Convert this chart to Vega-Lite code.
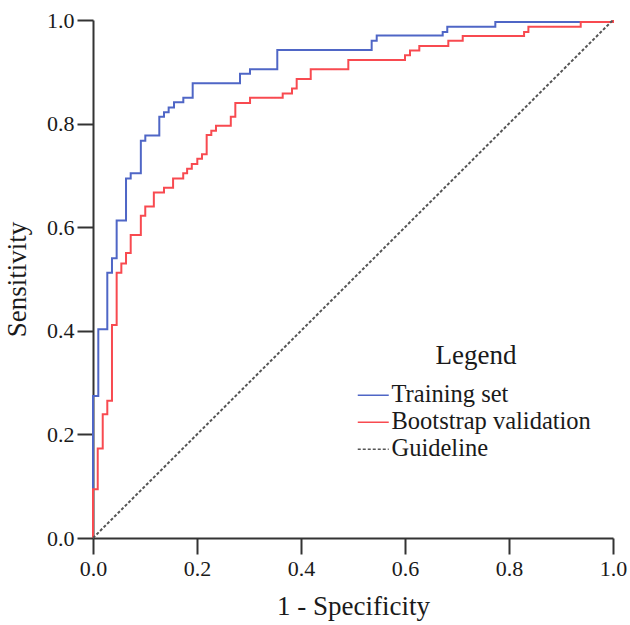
{
  "$schema": "https://vega.github.io/schema/vega-lite/v6.json",
  "autosize": "none",
  "width": 520,
  "height": 518,
  "padding": {"left": 93, "top": 20, "right": 17, "bottom": 87},
  "background": "white",
  "config": {
    "view": {"stroke": null},
    "font": "Liberation Serif",
    "axis": {
      "grid": false,
      "domainColor": "#333333",
      "domainWidth": 2,
      "tickColor": "#333333",
      "tickWidth": 2,
      "tickSize": 16,
      "labelFont": "Liberation Serif",
      "labelFontSize": 22,
      "labelColor": "#1a1a1a",
      "titleFont": "Liberation Serif",
      "titleFontSize": 27,
      "titleFontWeight": "normal",
      "titleColor": "#1a1a1a"
    },
    "legend": {
      "titleFont": "Liberation Serif",
      "titleFontSize": 27,
      "titleFontWeight": "normal",
      "titleColor": "#1a1a1a",
      "labelFont": "Liberation Serif",
      "labelFontSize": 24.5,
      "labelLimit": 400,
      "labelColor": "#1a1a1a"
    }
  },
  "datasets": {
    "roc": [
      {"series": "Training set", "i": 0, "x": 0, "y": 0},
      {"series": "Training set", "i": 1, "x": 0, "y": 0.274},
      {"series": "Training set", "i": 2, "x": 0.0102, "y": 0.403},
      {"series": "Training set", "i": 3, "x": 0.0275, "y": 0.512},
      {"series": "Training set", "i": 4, "x": 0.0365, "y": 0.540},
      {"series": "Training set", "i": 5, "x": 0.0455, "y": 0.613},
      {"series": "Training set", "i": 6, "x": 0.0635, "y": 0.694},
      {"series": "Training set", "i": 7, "x": 0.0725, "y": 0.704},
      {"series": "Training set", "i": 8, "x": 0.092, "y": 0.767},
      {"series": "Training set", "i": 9, "x": 0.1006, "y": 0.777},
      {"series": "Training set", "i": 10, "x": 0.1275, "y": 0.813},
      {"series": "Training set", "i": 11, "x": 0.1365, "y": 0.822},
      {"series": "Training set", "i": 12, "x": 0.1455, "y": 0.831},
      {"series": "Training set", "i": 13, "x": 0.1558, "y": 0.841},
      {"series": "Training set", "i": 14, "x": 0.1737, "y": 0.850},
      {"series": "Training set", "i": 15, "x": 0.1917, "y": 0.878},
      {"series": "Training set", "i": 16, "x": 0.2827, "y": 0.896},
      {"series": "Training set", "i": 17, "x": 0.3019, "y": 0.905},
      {"series": "Training set", "i": 18, "x": 0.3544, "y": 0.942},
      {"series": "Training set", "i": 19, "x": 0.5359, "y": 0.960},
      {"series": "Training set", "i": 20, "x": 0.5456, "y": 0.970},
      {"series": "Training set", "i": 21, "x": 0.6725, "y": 0.977},
      {"series": "Training set", "i": 22, "x": 0.6813, "y": 0.987},
      {"series": "Training set", "i": 23, "x": 0.7737, "y": 0.996},
      {"series": "Training set", "i": 24, "x": 1, "y": 1},
      {"series": "Bootstrap validation", "i": 0, "x": 0, "y": 0},
      {"series": "Bootstrap validation", "i": 1, "x": 0, "y": 0.094},
      {"series": "Bootstrap validation", "i": 2, "x": 0.0091, "y": 0.173},
      {"series": "Bootstrap validation", "i": 3, "x": 0.0187, "y": 0.239},
      {"series": "Bootstrap validation", "i": 4, "x": 0.0275, "y": 0.265},
      {"series": "Bootstrap validation", "i": 5, "x": 0.0365, "y": 0.411},
      {"series": "Bootstrap validation", "i": 6, "x": 0.0455, "y": 0.512},
      {"series": "Bootstrap validation", "i": 7, "x": 0.0545, "y": 0.530},
      {"series": "Bootstrap validation", "i": 8, "x": 0.0635, "y": 0.550},
      {"series": "Bootstrap validation", "i": 9, "x": 0.0725, "y": 0.585},
      {"series": "Bootstrap validation", "i": 10, "x": 0.092, "y": 0.622},
      {"series": "Bootstrap validation", "i": 11, "x": 0.1005, "y": 0.640},
      {"series": "Bootstrap validation", "i": 12, "x": 0.117, "y": 0.667},
      {"series": "Bootstrap validation", "i": 13, "x": 0.1365, "y": 0.676},
      {"series": "Bootstrap validation", "i": 14, "x": 0.154, "y": 0.694},
      {"series": "Bootstrap validation", "i": 15, "x": 0.1735, "y": 0.704},
      {"series": "Bootstrap validation", "i": 16, "x": 0.181, "y": 0.713},
      {"series": "Bootstrap validation", "i": 17, "x": 0.19, "y": 0.722},
      {"series": "Bootstrap validation", "i": 18, "x": 0.2006, "y": 0.732},
      {"series": "Bootstrap validation", "i": 19, "x": 0.2096, "y": 0.741},
      {"series": "Bootstrap validation", "i": 20, "x": 0.2186, "y": 0.778},
      {"series": "Bootstrap validation", "i": 21, "x": 0.2275, "y": 0.786},
      {"series": "Bootstrap validation", "i": 22, "x": 0.2365, "y": 0.796},
      {"series": "Bootstrap validation", "i": 23, "x": 0.265, "y": 0.813},
      {"series": "Bootstrap validation", "i": 24, "x": 0.2737, "y": 0.840},
      {"series": "Bootstrap validation", "i": 25, "x": 0.302, "y": 0.850},
      {"series": "Bootstrap validation", "i": 26, "x": 0.3648, "y": 0.858},
      {"series": "Bootstrap validation", "i": 27, "x": 0.3827, "y": 0.868},
      {"series": "Bootstrap validation", "i": 28, "x": 0.3917, "y": 0.886},
      {"series": "Bootstrap validation", "i": 29, "x": 0.4187, "y": 0.905},
      {"series": "Bootstrap validation", "i": 30, "x": 0.491, "y": 0.923},
      {"series": "Bootstrap validation", "i": 31, "x": 0.6, "y": 0.932},
      {"series": "Bootstrap validation", "i": 32, "x": 0.6096, "y": 0.941},
      {"series": "Bootstrap validation", "i": 33, "x": 0.6275, "y": 0.950},
      {"series": "Bootstrap validation", "i": 34, "x": 0.6833, "y": 0.960},
      {"series": "Bootstrap validation", "i": 35, "x": 0.711, "y": 0.969},
      {"series": "Bootstrap validation", "i": 36, "x": 0.829, "y": 0.977},
      {"series": "Bootstrap validation", "i": 37, "x": 0.8373, "y": 0.987},
      {"series": "Bootstrap validation", "i": 38, "x": 0.9379, "y": 0.996},
      {"series": "Bootstrap validation", "i": 39, "x": 1, "y": 1},
      {"series": "Guideline", "i": 0, "x": 0, "y": 0},
      {"series": "Guideline", "i": 1, "x": 1, "y": 1}
    ]
  },
  "data": {"name": "roc"},
  "encoding": {
    "x": {"field": "x", "type": "quantitative", "scale": {"domain": [0, 1], "nice": false, "zero": true},
          "axis": {"title": "1 - Specificity", "values": [0, 0.2, 0.4, 0.6, 0.8, 1], "format": ".1f", "labelPadding": 4, "titlePadding": 14, "labelFlush": false}},
    "y": {"field": "y", "type": "quantitative", "scale": {"domain": [0, 1], "nice": false},
          "axis": {"title": "Sensitivity", "values": [0, 0.2, 0.4, 0.6, 0.8, 1], "format": ".1f", "labelPadding": 3, "titlePadding": 15, "labelFlush": false}},
    "order": {"field": "i", "type": "quantitative"},
    "color": {"field": "series", "type": "nominal",
              "scale": {"domain": ["Training set", "Bootstrap validation", "Guideline"], "range": ["#4f66c6", "#f84a50", "#555555"]},
              "legend": {"title": "Legend", "orient": "none", "legendX": 268, "legendY": 323, "titleAnchor": "middle", "titlePadding": 13,
                         "symbolType": "M-1.55,0H1.55", "symbolSize": 400, "symbolStrokeWidth": 1.5, "rowPadding": 2, "labelOffset": 6}},
    "strokeDash": {"field": "series", "type": "nominal",
                   "scale": {"domain": ["Training set", "Bootstrap validation", "Guideline"], "range": [[1, 0], [1, 0], [3, 2]]},
                   "legend": {"title": "Legend", "orient": "none", "legendX": 268, "legendY": 323, "titleAnchor": "middle", "titlePadding": 13,
                              "symbolType": "M-1.55,0H1.55", "symbolSize": 400, "symbolStrokeWidth": 1.5, "rowPadding": 2, "labelOffset": 6}}
  },
  "layer": [
    {"transform": [{"filter": "datum.series === 'Training set'"}],
     "mark": {"type": "line", "interpolate": "step-after", "strokeWidth": 2}},
    {"transform": [{"filter": "datum.series === 'Bootstrap validation'"}],
     "mark": {"type": "line", "interpolate": "step-after", "strokeWidth": 2}},
    {"transform": [{"filter": "datum.series === 'Guideline'"}],
     "mark": {"type": "line", "interpolate": "linear", "strokeWidth": 2}}
  ]
}
